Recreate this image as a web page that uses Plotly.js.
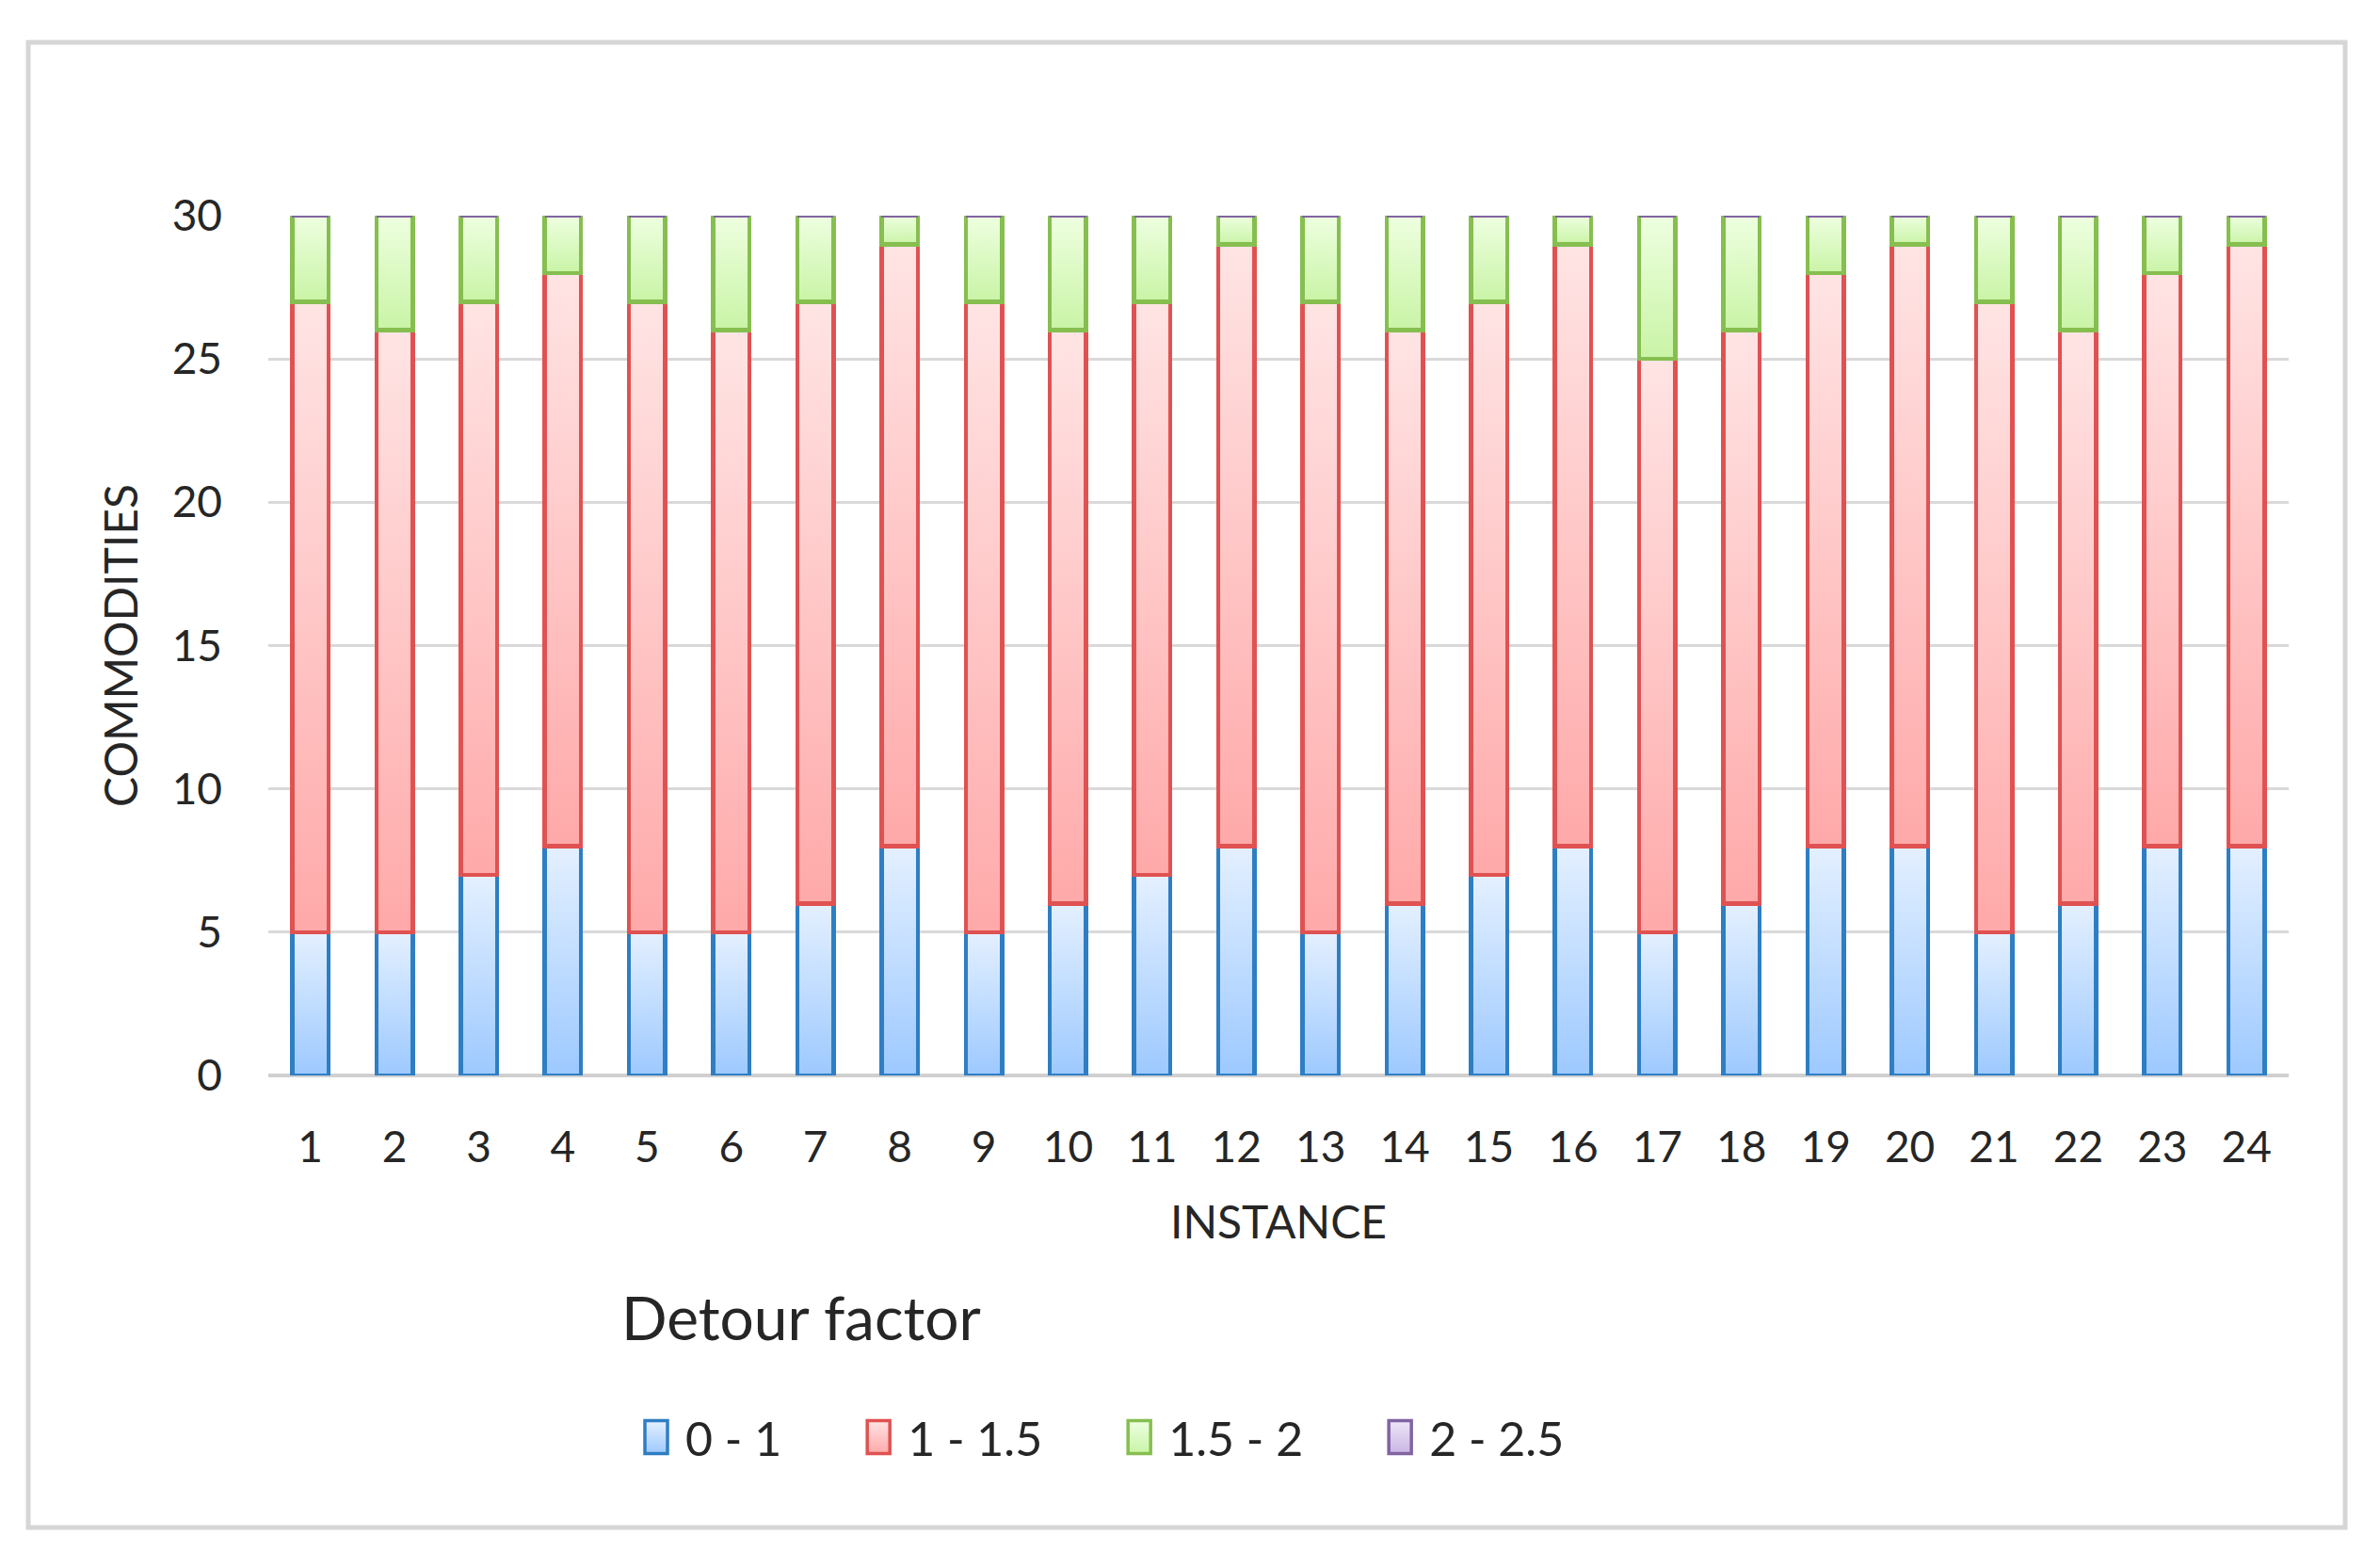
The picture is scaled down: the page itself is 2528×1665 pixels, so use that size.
<!DOCTYPE html>
<html>
<head>
<meta charset="utf-8">
<script src="https://cdn.plot.ly/plotly-3.0.1.min.js"></script>
<style>html,body{margin:0;padding:0;background:#fff;}#chart{width:2528px;height:1665px;}</style>
</head>
<body>
<div id="chart"></div>
<script>
const instances = ["1","2","3","4","5","6","7","8","9","10","11","12","13","14","15","16","17","18","19","20","21","22","23","24"];
const df_0_1   = [5,5,7,8,5,5,6,8,5,6,7,8,5,6,7,8,5,6,8,8,5,6,8,8];
const df_1_15  = [22,21,20,20,22,21,21,21,22,20,20,21,22,20,20,21,20,20,20,21,22,20,20,21];
const df_15_2  = [3,4,3,2,3,4,3,1,3,4,3,1,3,4,3,1,5,4,2,1,3,4,2,1];
const df_2_25  = [0,0,0,0,0,0,0,0,0,0,0,0,0,0,0,0,0,0,0,0,0,0,0,0];
const seriesNames = ["0 - 1","1 - 1.5","1.5 - 2","2 - 2.5"];
const legendTitle = "Detour factor";

const fills = ["#c2ddfd","#ffc6c6","#def9c8","#ddd0ee"];
const lines = ["#2e7ec4","#e05252","#86be50","#8064a2"];
const gradTop = ["#e4f0ff","#ffe4e4","#eeffe0","#eee6f8"];
const gradBot = ["#9dc9ff","#ffa9a9","#c9f4a6","#c9b6e4"];
const series = [df_0_1, df_1_15, df_15_2, df_2_25];

const font = "Lato, 'Open Sans', sans-serif";
const traces = series.map((vals, i) => ({
  type: "bar",
  name: seriesNames[i],
  x: instances,
  y: vals,
  marker: {color: fills[i], line: {color: lines[i], width: 4.5}},
  hoverinfo: "x+y+name"
}));

const L = 285, R = 2431, T = 229, B = 1142;
const pw = R - L, ph = B - T;
const px = v => (v - L) / pw;
const py = v => (B - v) / ph;

const layout = {
  width: 2528, height: 1665,
  margin: {l: L, r: 2528 - R, t: T, b: 1665 - B, pad: 0},
  paper_bgcolor: "#ffffff",
  plot_bgcolor: "#ffffff",
  barmode: "stack",
  bargap: 0.57,
  font: {family: font, color: "#262626", size: 46},
  xaxis: {
    type: "category",
    showgrid: false,
    showline: false,
    zeroline: false,
    ticks: "",
    ticklabelstandoff: 45,
    tickfont: {size: 46, family: font, color: "#262626"},
    title: {text: "INSTANCE", font: {size: 48, family: font, color: "#262626"}, standoff: 38}
  },
  yaxis: {
    range: [0, 30],
    tickvals: [0,5,10,15,20,25,30],
    showgrid: true,
    gridcolor: "#d9d9d9",
    gridwidth: 3,
    zeroline: true,
    zerolinecolor: "#d0d0d0",
    zerolinewidth: 4,
    showline: false,
    ticks: "",
    ticklabelstandoff: 48,
    tickfont: {size: 46, family: font, color: "#262626"},
    title: {text: "COMMODITIES", font: {size: 48, family: font, color: "#262626"}, standoff: 20}
  },
  showlegend: true,
  legend: {
    orientation: "h",
    x: px(599), xanchor: "left",
    y: py(1526), yanchor: "middle",
    traceorder: "normal",
    font: {size: 50, family: font, color: "#262626"},
    itemwidth: 119,
    bgcolor: "rgba(0,0,0,0)"
  },
  annotations: [{
    text: legendTitle, showarrow: false,
    xref: "paper", yref: "paper",
    x: px(658), xanchor: "left",
    y: py(1398), yanchor: "middle",
    font: {size: 64, family: font, color: "#262626"}
  }],
  shapes: [{
    type: "rect", xref: "paper", yref: "paper",
    x0: px(30), x1: px(2491), y0: py(1622), y1: py(45),
    line: {color: "#d6d6d6", width: 5},
    fillcolor: "rgba(0,0,0,0)",
    layer: "below"
  }]
};

function restyleMarks(gd) {
  const svg = gd.querySelector("svg.main-svg");
  const ns = "http://www.w3.org/2000/svg";
  let defs = svg.querySelector("defs");
  if (!defs) { defs = document.createElementNS(ns, "defs"); svg.insertBefore(defs, svg.firstChild); }
  gradTop.forEach((c, i) => {
    if (defs.querySelector("#bargrad" + i)) return;
    const g = document.createElementNS(ns, "linearGradient");
    g.setAttribute("id", "bargrad" + i);
    g.setAttribute("x1", "0"); g.setAttribute("y1", "0"); g.setAttribute("x2", "0"); g.setAttribute("y2", "1");
    [[0, c], [1, gradBot[i]]].forEach(([o, col]) => {
      const s = document.createElementNS(ns, "stop");
      s.setAttribute("offset", o); s.setAttribute("stop-color", col);
      g.appendChild(s);
    });
    defs.appendChild(g);
  });
  gd.querySelectorAll(".barlayer .trace").forEach((tr, i) => {
    tr.querySelectorAll("path").forEach(p => { p.style.fill = "url(#bargrad" + i + ")"; });
  });
  // larger legend swatches placed just before each label
  gd.querySelectorAll(".legend .traces").forEach((tr, i) => {
    const txt = tr.querySelector(".legendtext");
    const tl = txt ? txt.getBoundingClientRect().left : null;
    tr.querySelectorAll(".legendpoints path").forEach(p => {
      if (p.dataset.fixed) return;
      p.style.fill = "url(#bargrad" + i + ")";
      p.setAttribute("vector-effect", "non-scaling-stroke");
      p.style.strokeWidth = "3.5px";
      const base = p.getAttribute("transform") || "";
      const r = p.getBoundingClientRect();
      const cx = (r.left + r.right) / 2;
      const dx = tl !== null ? (tl - 31) - cx : 0;
      p.setAttribute("transform", base + " translate(" + dx + ",0) scale(2,2.9)");
      p.dataset.fixed = "1";
    });
  });
}

Plotly.newPlot("chart", traces, layout, {displayModeBar: false, staticPlot: true}).then(gd => {
  restyleMarks(gd);
});
</script>
</body>
</html>
